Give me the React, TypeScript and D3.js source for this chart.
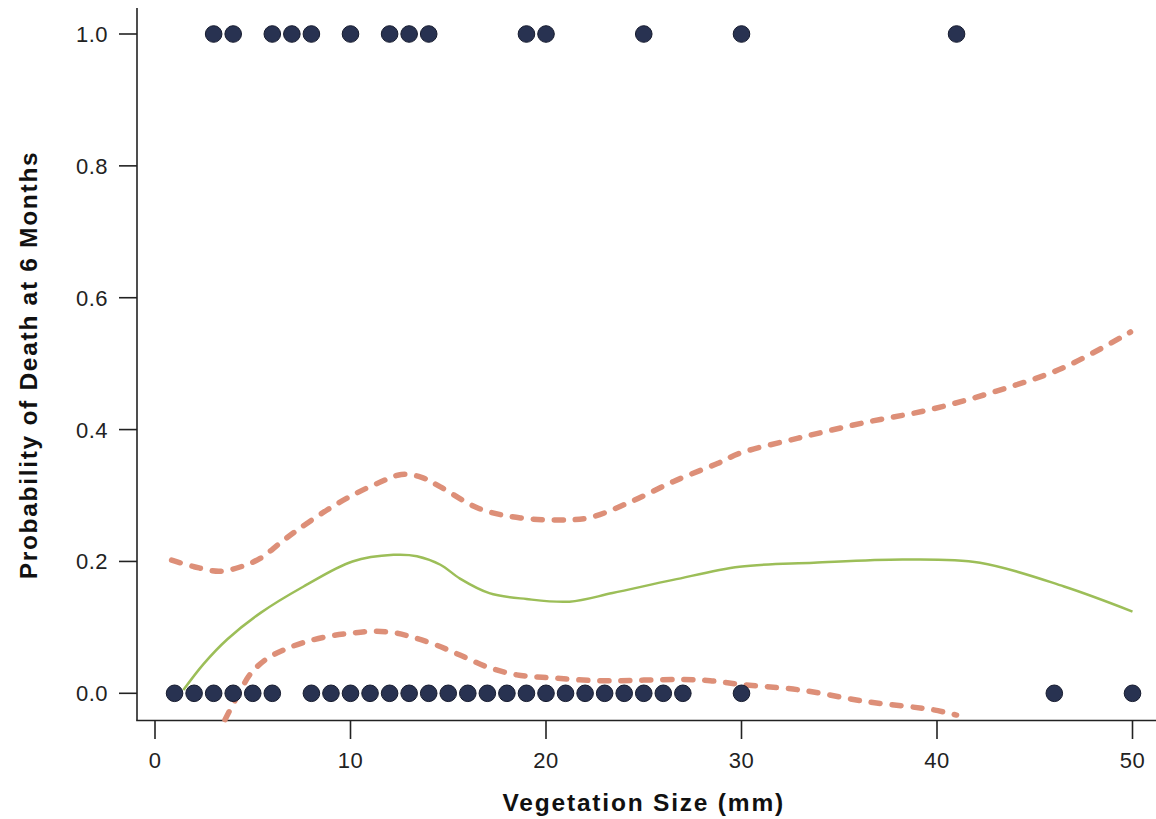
import { useEffect, useRef } from 'react';
import * as d3 from 'd3';

// observed outcomes: vegetation size (mm) of patients who died / survived
const diedSizes = [3, 4, 6, 7, 8, 10, 12, 13, 14, 19, 20, 25, 30, 41];
const survivedSizes = [1, 2, 3, 4, 5, 6, 8, 9, 10, 11, 12, 13, 14, 15, 16, 17, 18, 19, 20, 21, 22, 23, 24, 25, 26, 27, 30, 46, 50];

// fitted probability (solid) with upper / lower confidence limits (dashed)
const fitX = [1.45, 2.5, 3.7, 5.4, 7.6, 10.1, 12.2, 13.4, 14.6, 15.6, 17.1, 19, 21.2, 23.4, 26.5, 29.9, 33.7, 38.3, 42.2, 46.5, 50];
const fitY = [0.005, 0.045, 0.082, 0.122, 0.162, 0.2, 0.21, 0.208, 0.195, 0.174, 0.152, 0.143, 0.139, 0.152, 0.172, 0.192, 0.198, 0.203, 0.198, 0.162, 0.124];

const upperX = [0.85, 2, 3.3, 4.5, 5.4, 6.4, 7.3, 8.8, 10.2, 11.5, 12.6, 13.6, 14.6, 16.6, 18.7, 21.1, 22.3, 24.3, 26.5, 28.8, 29.9, 32.9, 36.2, 39.6, 43, 46.4, 49.9];
const upperY = [0.202, 0.192, 0.185, 0.193, 0.205, 0.228, 0.248, 0.278, 0.302, 0.32, 0.332, 0.328, 0.313, 0.28, 0.266, 0.263, 0.267, 0.29, 0.321, 0.349, 0.364, 0.387, 0.41, 0.43, 0.458, 0.493, 0.548];

const lowerX = [3.58, 4.2, 4.9, 5.7, 6.6, 7.6, 8.8, 10, 11.17, 12.2, 13.2, 14.4, 15.6, 17, 18.5, 20, 22.8, 25, 27, 28.4, 29.9, 33, 36.4, 39.8, 41];
const lowerY = [-0.04, -0.005, 0.03, 0.052, 0.066, 0.077, 0.086, 0.091, 0.094, 0.092, 0.085, 0.073, 0.058, 0.04, 0.028, 0.024, 0.019, 0.02, 0.021, 0.019, 0.0137, 0.005, -0.0127, -0.025, -0.033];

const xTicks = [0, 10, 20, 30, 40, 50];
const yTicks = [0, 0.2, 0.4, 0.6, 0.8, 1.0];

const FONT = '"Liberation Sans", Arial, Helvetica, sans-serif';

export default function App() {
    const ref = useRef<SVGSVGElement | null>(null);

    useEffect(() => {
        const width = 1156;
        const height = 819;

        const svg = d3.select(ref.current);
        svg.selectAll('*').remove();
        svg.attr('width', width).attr('height', height);

        const x = d3.scaleLinear().domain([0, 50]).range([155, 1132.5]);
        const y = d3.scaleLinear().domain([0, 1]).range([693.3, 34]);

        const axisLeft = 137;
        const axisBottom = 720.5;

        // === Axes lines ===
        svg.append('line')
            .attr('x1', axisLeft).attr('x2', axisLeft)
            .attr('y1', 8).attr('y2', axisBottom)
            .attr('stroke', '#222').attr('stroke-width', 1.6);
        svg.append('line')
            .attr('x1', axisLeft - 0.8).attr('x2', 1156)
            .attr('y1', axisBottom).attr('y2', axisBottom)
            .attr('stroke', '#222').attr('stroke-width', 1.6);

        // === Y ticks ===
        const yt = svg.append('g').selectAll('g').data(yTicks).enter().append('g');
        yt.append('line')
            .attr('x1', 119).attr('x2', axisLeft)
            .attr('y1', (d) => y(d)).attr('y2', (d) => y(d))
            .attr('stroke', '#222').attr('stroke-width', 1.6);
        yt.append('text')
            .attr('x', 108)
            .attr('y', (d) => y(d))
            .attr('dy', '0.36em')
            .attr('text-anchor', 'end')
            .attr('font-family', FONT)
            .attr('font-size', '22px')
            .attr('letter-spacing', '0.5px')
            .attr('fill', '#222')
            .text((d) => d3.format('.1f')(d));

        // === X ticks ===
        const xt = svg.append('g').selectAll('g').data(xTicks).enter().append('g');
        xt.append('line')
            .attr('x1', (d) => x(d)).attr('x2', (d) => x(d))
            .attr('y1', axisBottom).attr('y2', 739)
            .attr('stroke', '#222').attr('stroke-width', 1.6);
        xt.append('text')
            .attr('x', (d) => x(d))
            .attr('y', 768)
            .attr('text-anchor', 'middle')
            .attr('font-family', FONT)
            .attr('font-size', '22px')
            .attr('letter-spacing', '0.5px')
            .attr('fill', '#222')
            .text((d) => String(d));

        // === Axis titles ===
        svg.append('text')
            .attr('x', (x(0) + x(50)) / 2)
            .attr('y', 811)
            .attr('text-anchor', 'middle')
            .attr('font-family', FONT)
            .attr('font-size', '24.5px')
            .attr('font-weight', 'bold')
            .attr('letter-spacing', '1.8px')
            .attr('fill', '#111')
            .text('Vegetation Size (mm)');
        svg.append('text')
            .attr('transform', 'translate(37, 365) rotate(-90)')
            .attr('text-anchor', 'middle')
            .attr('font-family', FONT)
            .attr('font-size', '24.5px')
            .attr('font-weight', 'bold')
            .attr('letter-spacing', '1.7px')
            .attr('fill', '#111')
            .text('Probability of Death at 6 Months');

        // === Curves ===
        const line = d3.line<[number, number]>()
            .x((d) => x(d[0]))
            .y((d) => y(d[1]))
            .curve(d3.curveCatmullRom.alpha(0.5));

        const zip = (xs: number[], ys: number[]) => xs.map((v, i) => [v, ys[i]] as [number, number]);

        const dashed = [zip(upperX, upperY), zip(lowerX, lowerY)];
        svg.append('g').selectAll('path').data(dashed).enter().append('path')
            .attr('d', (d) => line(d))
            .attr('fill', 'none')
            .attr('stroke', '#dd8f78')
            .attr('stroke-width', 5.5)
            .attr('stroke-linecap', 'round')
            .attr('stroke-dasharray', '9 12');

        svg.append('path')
            .attr('d', line(zip(fitX, fitY)))
            .attr('fill', 'none')
            .attr('stroke', '#9cbe58')
            .attr('stroke-width', 2.5);

        // === Observed points ===
        const pts = [
            ...survivedSizes.map((v) => [v, 0] as [number, number]),
            ...diedSizes.map((v) => [v, 1] as [number, number]),
        ];
        svg.append('g').selectAll('circle').data(pts).enter().append('circle')
            .attr('cx', (d) => x(d[0]))
            .attr('cy', (d) => y(d[1]))
            .attr('r', 8.3)
            .attr('fill', '#283251')
            .attr('stroke', '#161b2e')
            .attr('stroke-width', 1);
    }, []);

    return (
        <div style={{ position: 'absolute', left: 0, top: 0 }}>
            <svg ref={ref} style={{ display: 'block' }} />
        </div>
    );
}
